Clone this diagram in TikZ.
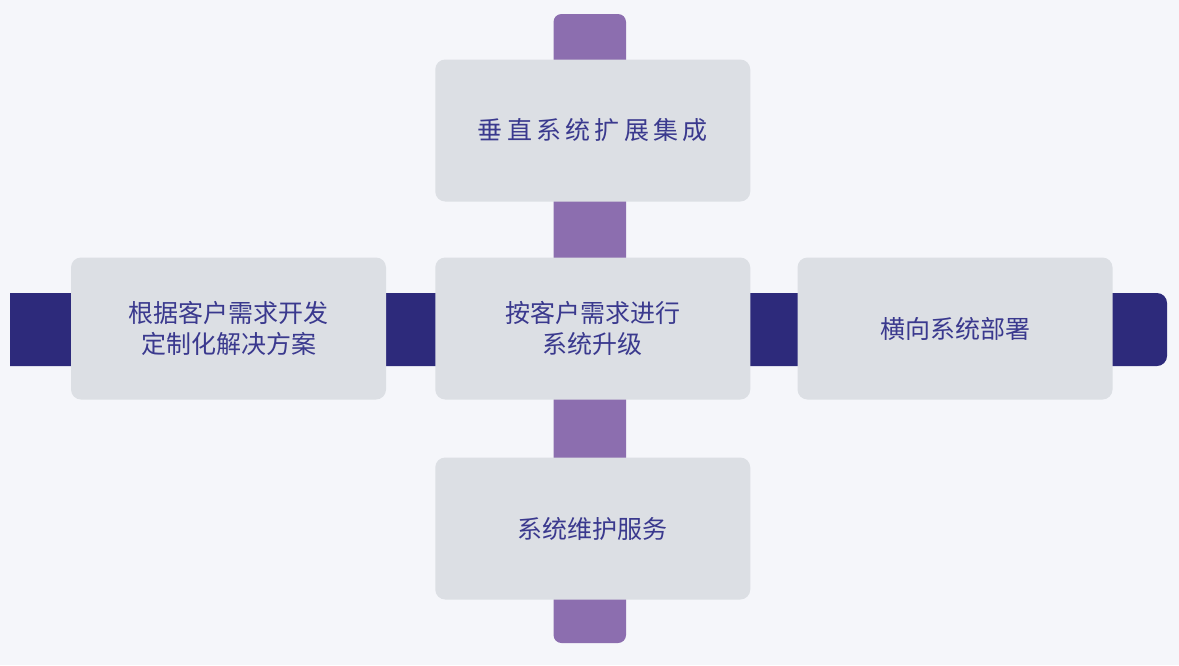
\documentclass[tikz,border=0pt]{standalone}
\usepackage{fontspec}
\setmainfont{Noto Sans CJK SC}
\newfontfamily\spacedfont[LetterSpace=17]{Noto Sans CJK SC}
\definecolor{bgcol}{HTML}{F5F6FA}
\definecolor{boxgray}{HTML}{DCDFE4}
\definecolor{barpurple}{HTML}{8C6EAF}
\definecolor{barnavy}{HTML}{2D2A7B}
\definecolor{txtcol}{HTML}{3A398E}
\begin{document}
\begin{tikzpicture}[x=1pt,y=-1pt,
  box/.style={fill=boxgray, rounded corners=10pt, minimum width=315pt, minimum height=142pt,
    inner sep=0pt, text=txtcol, font=\fontsize{25}{31}\selectfont, align=center}]
\fill[bgcol] (0,0) rectangle (1179,665);
\useasboundingbox (0,0) rectangle (1179,665);
% bars
\coordinate (ptop) at (553.5,14);
\coordinate (pbot) at (626,643);
\fill[barpurple, rounded corners=8pt] (ptop) rectangle (pbot);
\coordinate (nl) at (10,293);
\coordinate (nr) at (1167,366);
\fill[barnavy] (nl) -- (1157,293) [rounded corners=10pt] -- (1167,293) -- (1167,366) [sharp corners] -- (1157,366) -- (10,366) -- cycle;
% boxes
\node[box] (top) at (592.75,130.5) {{\spacedfont 垂直系统扩展集成}};
\node[box] (center) at (592.75,328.5) {按客户需求进行\\系统升级};
\node[box] (left) at (228.5,328.5) {根据客户需求开发\\定制化解决方案};
\node[box] (right) at (955,328.5) {横向系统部署};
\node[box] (bottom) at (592.75,528.5) {系统维护服务};
\end{tikzpicture}
\end{document}
